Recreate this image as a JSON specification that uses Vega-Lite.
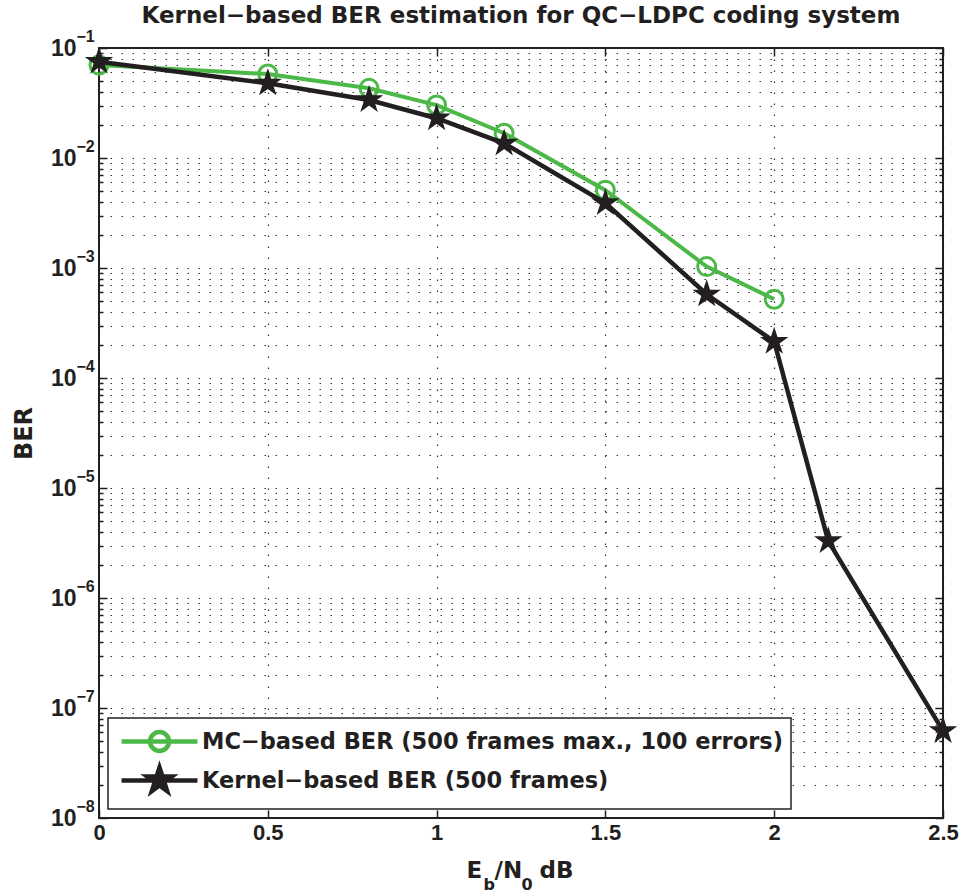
{
  "$schema": "https://vega.github.io/schema/vega-lite/v6.json",
  "width": 844,
  "height": 770,
  "autosize": {"type": "none"},
  "padding": {"left": 99, "top": 48, "right": 24, "bottom": 78},
  "background": "white",
  "title": {
    "text": "Kernel−based BER estimation for QC−LDPC coding system",
    "font": "DejaVu Sans",
    "fontSize": 23,
    "fontWeight": "bold",
    "color": "#231f20",
    "anchor": "middle",
    "offset": 0
  },
  "data": {
    "values": [
      {"series": "MC−based BER (500 frames max., 100 errors)", "x": 0, "ber": 0.070},
      {"series": "MC−based BER (500 frames max., 100 errors)", "x": 0.5, "ber": 0.058},
      {"series": "MC−based BER (500 frames max., 100 errors)", "x": 0.8, "ber": 0.043},
      {"series": "MC−based BER (500 frames max., 100 errors)", "x": 1.0, "ber": 0.0303},
      {"series": "MC−based BER (500 frames max., 100 errors)", "x": 1.2, "ber": 0.0168},
      {"series": "MC−based BER (500 frames max., 100 errors)", "x": 1.5, "ber": 0.0051},
      {"series": "MC−based BER (500 frames max., 100 errors)", "x": 1.8, "ber": 0.00103},
      {"series": "MC−based BER (500 frames max., 100 errors)", "x": 2.0, "ber": 0.00052},
      {"series": "Kernel−based BER (500 frames)", "x": 0, "ber": 0.0751},
      {"series": "Kernel−based BER (500 frames)", "x": 0.5, "ber": 0.0478},
      {"series": "Kernel−based BER (500 frames)", "x": 0.8, "ber": 0.0337},
      {"series": "Kernel−based BER (500 frames)", "x": 1.0, "ber": 0.023},
      {"series": "Kernel−based BER (500 frames)", "x": 1.2, "ber": 0.0136},
      {"series": "Kernel−based BER (500 frames)", "x": 1.5, "ber": 0.0039},
      {"series": "Kernel−based BER (500 frames)", "x": 1.8, "ber": 0.000577},
      {"series": "Kernel−based BER (500 frames)", "x": 2.0, "ber": 0.000214},
      {"series": "Kernel−based BER (500 frames)", "x": 2.16, "ber": 0.0000033},
      {"series": "Kernel−based BER (500 frames)", "x": 2.5, "ber": 0.000000062}
    ]
  },
  "layer": [
    {
      "transform": [{"filter": "datum.series == 'MC−based BER (500 frames max., 100 errors)'"}],
      "mark": {"type": "line", "stroke": "#4cb848", "strokeWidth": 4},
      "encoding": {
        "x": {
          "field": "x", "type": "quantitative",
          "scale": {"domain": [0, 2.5], "nice": false, "zero": false},
          "axis": {
            "orient": "bottom", "values": [0, 0.5, 1, 1.5, 2, 2.5], "format": "~g",
            "labelFont": "Liberation Sans", "labelFontWeight": "bold", "labelFontSize": 22, "labelColor": "#231f20",
            "labelPadding": 4, "labelFlush": false, "labelOverlap": false,
            "ticks": false, "tickSize": 0, "domain": false,
            "grid": true, "gridDash": [1.5, 9.5], "gridColor": "#231f20", "gridWidth": 1.2, "gridOpacity": 0.9,
            "title": "E", "titleX": 367, "titleY": 59, "titleAlign": "left", "titleBaseline": "alphabetic",
            "titleFont": "DejaVu Sans", "titleFontSize": 23, "titleFontWeight": "bold", "titleColor": "#231f20"
          }
        },
        "y": {
          "field": "ber", "type": "quantitative",
          "scale": {"type": "log", "domain": [1e-8, 0.1], "nice": false},
          "axis": {
            "orient": "left", "values": [1e-8, 1e-7, 1e-6, 1e-5, 1e-4, 0.001, 0.01, 0.1],
            "labelExpr": "'10'",
            "labelFont": "Liberation Sans", "labelFontWeight": "bold", "labelFontSize": 23, "labelColor": "#231f20",
            "labelPadding": 23, "labelBaseline": "middle", "labelFlush": false, "labelOverlap": false,
            "ticks": false, "tickSize": 0, "domain": false, "grid": false,
            "title": "BER", "titleX": -68, "titleY": 385, "titleBaseline": "alphabetic", "titleAlign": "center",
            "titleFont": "DejaVu Sans", "titleFontSize": 24, "titleFontWeight": "bold", "titleColor": "#231f20"
          }
        }
      }
    },
    {
      "transform": [{"filter": "datum.series == 'MC−based BER (500 frames max., 100 errors)'"}],
      "mark": {"type": "point", "shape": "M-0.72,0A0.72,0.72 0 1,1 0.72,0A0.72,0.72 0 1,1 -0.72,0Z", "size": 625, "filled": false, "stroke": "#4cb848", "strokeWidth": 3, "opacity": 1},
      "encoding": {
        "x": {
          "field": "x", "type": "quantitative",
          "scale": {"domain": [0, 2.5], "nice": false, "zero": false},
          "axis": {
            "orient": "top", "values": [0, 0.5, 1, 1.5, 2, 2.5],
            "labels": false, "ticks": true, "tickSize": -8, "tickColor": "#231f20", "tickWidth": 1.5,
            "domain": false, "grid": false, "title": null
          }
        },
        "y": {
          "field": "ber", "type": "quantitative",
          "scale": {"type": "log", "domain": [1e-8, 0.1], "nice": false},
          "axis": {
            "orient": "left",
            "values": [1e-8, 2e-8, 3e-8, 4e-8, 5e-8, 6e-8, 7e-8, 8e-8, 9e-8,
                       1e-7, 2e-7, 3e-7, 4e-7, 5e-7, 6e-7, 7e-7, 8e-7, 9e-7,
                       1e-6, 2e-6, 3e-6, 4e-6, 5e-6, 6e-6, 7e-6, 8e-6, 9e-6,
                       1e-5, 2e-5, 3e-5, 4e-5, 5e-5, 6e-5, 7e-5, 8e-5, 9e-5,
                       1e-4, 2e-4, 3e-4, 4e-4, 5e-4, 6e-4, 7e-4, 8e-4, 9e-4,
                       0.001, 0.002, 0.003, 0.004, 0.005, 0.006, 0.007, 0.008, 0.009,
                       0.01, 0.02, 0.03, 0.04, 0.05, 0.06, 0.07, 0.08, 0.09, 0.1],
            "labels": false, "ticks": true,
            "tickSize": {"condition": {"test": "abs(log(datum.value)/LN10 - round(log(datum.value)/LN10)) < 0.001", "value": -8}, "value": -4},
            "tickColor": "#231f20", "tickWidth": 1.5,
            "domain": false,
            "grid": true, "gridDash": [1.5, 9.5], "gridColor": "#231f20", "gridWidth": 1.2, "gridOpacity": 0.9,
            "title": null
          }
        }
      }
    },
    {
      "transform": [{"filter": "datum.series == 'Kernel−based BER (500 frames)'"}],
      "mark": {"type": "line", "stroke": "#231f20", "strokeWidth": 4.5},
      "encoding": {
        "x": {
          "field": "x", "type": "quantitative",
          "scale": {"domain": [0, 2.5], "nice": false, "zero": false},
          "axis": {
            "orient": "bottom", "labels": false, "ticks": false, "domain": false, "grid": false,
            "title": "b", "titleX": 384, "titleY": 71, "titleAlign": "left", "titleBaseline": "alphabetic",
            "titleFont": "DejaVu Sans", "titleFontSize": 16, "titleFontWeight": "bold", "titleColor": "#231f20"
          }
        },
        "y": {
          "field": "ber", "type": "quantitative",
          "scale": {"type": "log", "domain": [1e-8, 0.1], "nice": false},
          "axis": null
        }
      }
    },
    {
      "transform": [{"filter": "datum.series == 'Kernel−based BER (500 frames)'"}],
      "mark": {"type": "point", "shape": "M0,-1L0.2245,-0.309L0.951,-0.309L0.3633,0.118L0.5878,0.809L0,0.382L-0.5878,0.809L-0.3633,0.118L-0.951,-0.309L-0.2245,-0.309Z", "size": 625, "filled": true, "fill": "#231f20", "stroke": "#231f20", "strokeWidth": 1.5, "opacity": 1},
      "encoding": {
        "x": {
          "field": "x", "type": "quantitative",
          "scale": {"domain": [0, 2.5], "nice": false, "zero": false},
          "axis": {
            "orient": "bottom", "values": [0, 0.5, 1, 1.5, 2, 2.5],
            "labels": false, "ticks": true, "tickSize": -8, "tickColor": "#231f20", "tickWidth": 1.5,
            "domain": false, "grid": false,
            "title": "/N", "titleX": 395, "titleY": 59, "titleAlign": "left", "titleBaseline": "alphabetic",
            "titleFont": "DejaVu Sans", "titleFontSize": 23, "titleFontWeight": "bold", "titleColor": "#231f20"
          }
        },
        "y": {
          "field": "ber", "type": "quantitative",
          "scale": {"type": "log", "domain": [1e-8, 0.1], "nice": false},
          "axis": {
            "orient": "right",
            "values": [1e-8, 2e-8, 3e-8, 4e-8, 5e-8, 6e-8, 7e-8, 8e-8, 9e-8,
                       1e-7, 2e-7, 3e-7, 4e-7, 5e-7, 6e-7, 7e-7, 8e-7, 9e-7,
                       1e-6, 2e-6, 3e-6, 4e-6, 5e-6, 6e-6, 7e-6, 8e-6, 9e-6,
                       1e-5, 2e-5, 3e-5, 4e-5, 5e-5, 6e-5, 7e-5, 8e-5, 9e-5,
                       1e-4, 2e-4, 3e-4, 4e-4, 5e-4, 6e-4, 7e-4, 8e-4, 9e-4,
                       0.001, 0.002, 0.003, 0.004, 0.005, 0.006, 0.007, 0.008, 0.009,
                       0.01, 0.02, 0.03, 0.04, 0.05, 0.06, 0.07, 0.08, 0.09, 0.1],
            "labels": false, "ticks": true,
            "tickSize": {"condition": {"test": "abs(log(datum.value)/LN10 - round(log(datum.value)/LN10)) < 0.001", "value": -8}, "value": -4},
            "tickColor": "#231f20", "tickWidth": 1.5,
            "domain": false, "grid": false, "title": null
          }
        }
      }
    },
    {
      "transform": [{"filter": "false"}],
      "mark": {"type": "point", "strokeWidth": 4.5, "opacity": 1, "size": 676},
      "encoding": {
        "x": {
          "field": "x", "type": "quantitative",
          "scale": {"domain": [0, 2.5], "nice": false, "zero": false},
          "axis": {
            "orient": "bottom", "labels": false, "ticks": false, "domain": false, "grid": false,
            "title": "0", "titleX": 422, "titleY": 71, "titleAlign": "left", "titleBaseline": "alphabetic",
            "titleFont": "DejaVu Sans", "titleFontSize": 16, "titleFontWeight": "bold", "titleColor": "#231f20"
          }
        },
        "y": {
          "field": "ber", "type": "quantitative",
          "scale": {"type": "log", "domain": [1e-8, 0.1], "nice": false},
          "axis": {
            "orient": "left", "values": [1e-8, 1e-7, 1e-6, 1e-5, 1e-4, 0.001, 0.01, 0.1],
            "labelExpr": "'−' + format(-round(log(datum.value)/LN10), 'd')",
            "labelFont": "Liberation Sans", "labelFontWeight": "bold", "labelFontSize": 16, "labelColor": "#231f20",
            "labelAlign": "left", "labelPadding": 23, "labelOffset": -12, "labelBaseline": "middle",
            "labelFlush": false, "labelOverlap": false,
            "ticks": false, "tickSize": 0, "domain": false, "grid": false, "title": null
          }
        },
        "shape": {
          "field": "series", "type": "nominal", "title": null,
          "scale": {
            "domain": ["MC−based BER (500 frames max., 100 errors)", "Kernel−based BER (500 frames)"],
            "range": [
              "M-2.92,0H2.92M-0.73,0A0.73,0.73 0 1,1 0.73,0A0.73,0.73 0 1,1 -0.73,0Z",
              "M-2.92,0H2.92M0,-1L0.2245,-0.309L0.951,-0.309L0.3633,0.118L0.5878,0.809L0,0.382L-0.5878,0.809L-0.3633,0.118L-0.951,-0.309L-0.2245,-0.309Z"
            ]
          }
        },
        "stroke": {
          "field": "series", "type": "nominal", "title": null,
          "scale": {
            "domain": ["MC−based BER (500 frames max., 100 errors)", "Kernel−based BER (500 frames)"],
            "range": ["#4cb848", "#231f20"]
          }
        },
        "fill": {
          "field": "series", "type": "nominal", "title": null,
          "scale": {
            "domain": ["MC−based BER (500 frames max., 100 errors)", "Kernel−based BER (500 frames)"],
            "range": ["transparent", "#231f20"]
          }
        }
      }
    },
    {
      "transform": [{"filter": "false"}],
      "mark": {"type": "point", "opacity": 0},
      "encoding": {
        "x": {
          "field": "x", "type": "quantitative",
          "scale": {"domain": [0, 2.5], "nice": false, "zero": false},
          "axis": {
            "orient": "bottom", "labels": false, "ticks": false, "domain": false, "grid": false,
            "title": "dB", "titleX": 440, "titleY": 59, "titleAlign": "left", "titleBaseline": "alphabetic",
            "titleFont": "DejaVu Sans", "titleFontSize": 23, "titleFontWeight": "bold", "titleColor": "#231f20"
          }
        },
        "y": {
          "field": "ber", "type": "quantitative",
          "scale": {"type": "log", "domain": [1e-8, 0.1], "nice": false},
          "axis": null
        }
      }
    }
  ],
  "resolve": {"axis": {"x": "independent", "y": "independent"}},
  "config": {
    "view": {"stroke": "#231f20", "strokeWidth": 2},
    "legend": {
      "orient": "bottom-left",
      "offset": 9,
      "padding": 8,
      "strokeColor": "#231f20",
      "strokeWidth": 1.5,
      "fillColor": "white",
      "labelFont": "DejaVu Sans",
      "labelFontWeight": "bold",
      "labelFontSize": 22.5,
      "labelColor": "#231f20",
      "labelLimit": 900,
      "labelOffset": 27,
      "symbolOffset": 28,
      "symbolSize": 676,
      "symbolStrokeWidth": 4.5,
      "rowPadding": -2
    }
  }
}
